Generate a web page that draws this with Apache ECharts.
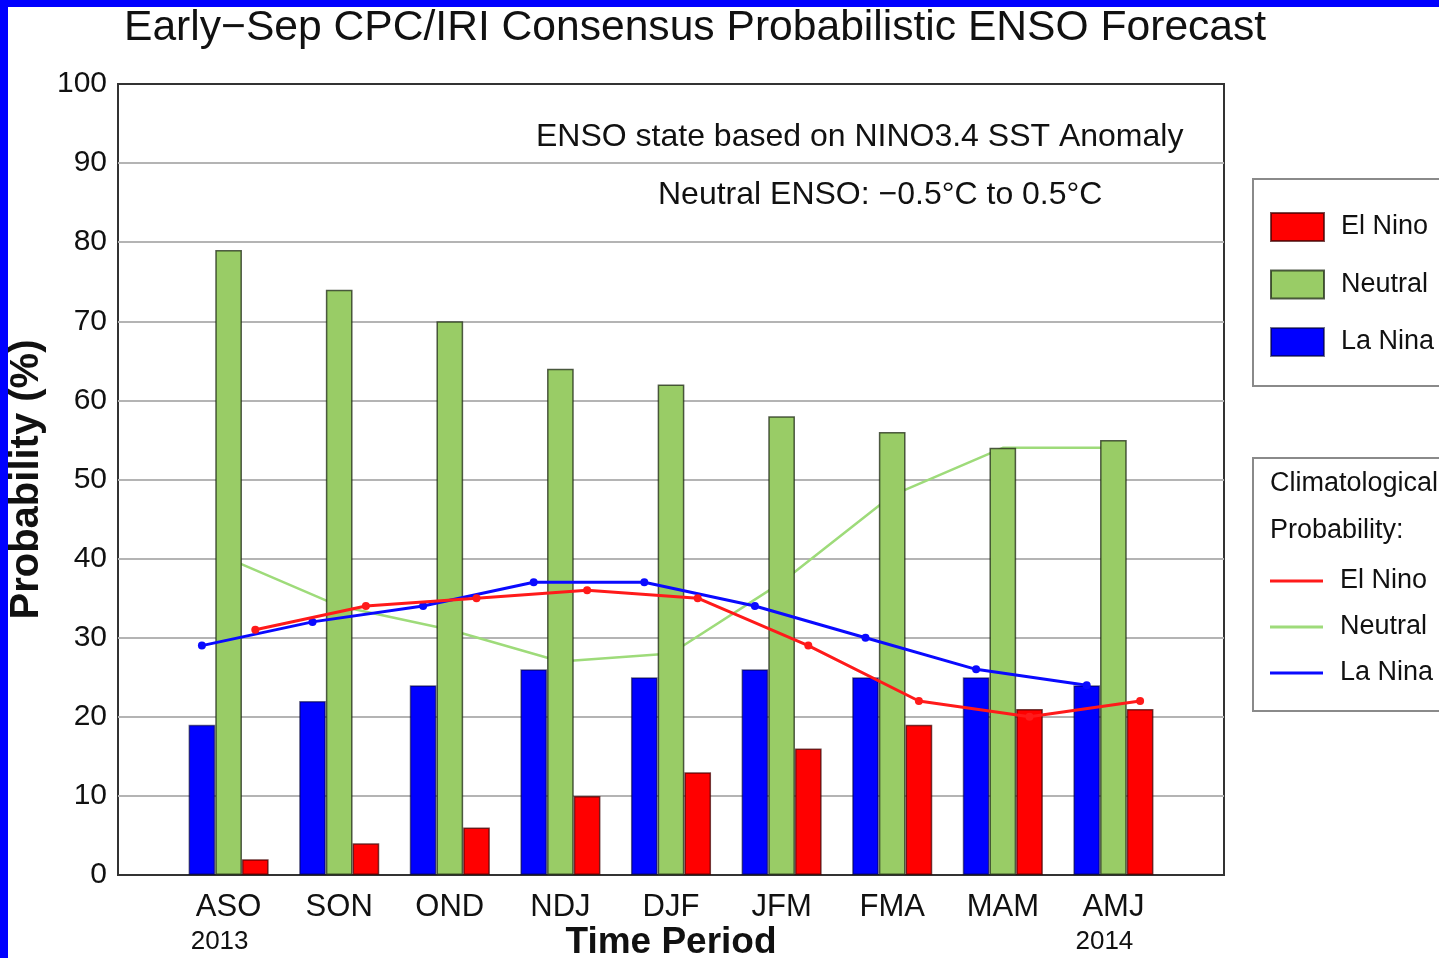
<!DOCTYPE html>
<html>
<head>
<meta charset="utf-8">
<script src="https://cdn.jsdelivr.net/npm/echarts@6/dist/echarts.min.js"></script>
<style>
html,body{margin:0;padding:0;background:#fff;}
#chart{width:1439px;height:958px;}
</style>
</head>
<body>
<div id="chart"></div>
<script>
// ---- data ----
const categories = ['ASO', 'SON', 'OND', 'NDJ', 'DJF', 'JFM', 'FMA', 'MAM', 'AMJ'];
const firstYear = '2013';
const lastYear = '2014';
const laNina  = [19, 22, 24, 26, 25, 26, 25, 25, 24];
const neutral = [79, 74, 70, 64, 62, 58, 56, 54, 55];
const elNino  = [2, 4, 6, 10, 13, 16, 19, 21, 21];
const climLaNina  = [29, 32, 34, 37, 37, 34, 30, 26, 24];
const climNeutral = [40, 34, 31, 27, 28, 37, 48, 54, 54];
const climElNino  = [31, 34, 35, 36, 35, 29, 22, 20, 22];
const yMin = 0, yMax = 100, yStep = 10;

// ---- style ----
const FONT = '"Liberation Sans", Arial, Helvetica, sans-serif';
const TXT = '#111';
const BOX = {left: 118, top: 84, width: 1106, height: 791};
const nCat = categories.length;
const slot = BOX.width / (nCat + 1);
const barW = 26.7;
const barsLeft = BOX.left + slot / 2;
const barsWidth = slot * nCat;

const chart = echarts.init(document.getElementById('chart'), null, {renderer: 'canvas'});

function hiddenX(grid) {
  return {type: 'category', gridIndex: grid, data: categories, show: false};
}
function hiddenY(grid) {
  return {type: 'value', gridIndex: grid, min: yMin, max: yMax, interval: yStep, show: false};
}
function plainGrid(left) {
  return {left: left, top: BOX.top, width: barsWidth, height: BOX.height,
          containLabel: false, outerBoundsMode: 'none'};
}

const option = {
  animation: false,
  backgroundColor: '#fff',
  title: {
    text: 'Early\u2212Sep CPC/IRI Consensus Probabilistic ENSO Forecast',
    left: 124, top: 7, padding: 0,
    textStyle: {fontFamily: FONT, fontSize: 42.6, fontWeight: 'normal', color: TXT, lineHeight: 43}
  },
  grid: [
    {left: BOX.left, top: BOX.top, width: BOX.width, height: BOX.height, show: true,
     borderColor: '#333', borderWidth: 2, backgroundColor: '#fff',
     containLabel: false, outerBoundsMode: 'none'},
    plainGrid(barsLeft),
    plainGrid(barsLeft - barW),
    plainGrid(barsLeft + barW)
  ],
  xAxis: [
    {type: 'value', gridIndex: 0, min: 0, max: 1, show: false},
    {type: 'category', gridIndex: 1, data: categories,
     axisLine: {show: false}, axisTick: {show: false},
     axisLabel: {
       interval: 0, margin: 17, fontFamily: FONT, fontSize: 31, lineHeight: 30, color: TXT,
       formatter: function (v, i) {
         if (i === 0) return v + '\n{yr|' + firstYear + '}';
         if (i === nCat - 1) return v + '\n{yr|' + lastYear + '}';
         return v;
       },
       rich: {yr: {fontFamily: FONT, fontSize: 26, lineHeight: 40, color: TXT, padding: [0, 18, 0, 0]}}
     },
     name: 'Time Period', nameLocation: 'middle', nameGap: 49, nameMoveOverlap: false,
     nameTextStyle: {fontFamily: FONT, fontSize: 37, fontWeight: 'bold', color: TXT, lineHeight: 37}
    },
    hiddenX(2),
    hiddenX(3)
  ],
  yAxis: [
    {type: 'value', gridIndex: 0, min: yMin, max: yMax, interval: yStep,
     axisLine: {show: false}, axisTick: {show: false},
     splitLine: {show: true, showMinLine: false, showMaxLine: false, lineStyle: {color: '#b4b4b4', width: 2}},
     axisLabel: {margin: 11, fontFamily: FONT, fontSize: 30, color: TXT},
     name: 'Probability (%)', nameLocation: 'middle', nameGap: 71, nameRotate: 90, nameMoveOverlap: false,
     nameTextStyle: {fontFamily: FONT, fontSize: 40, fontWeight: 'bold', color: TXT, lineHeight: 40}
    },
    hiddenY(1),
    hiddenY(2),
    hiddenY(3)
  ],
  legend: [
    {data: ['El Nino', 'Neutral', 'La Nina'], orient: 'vertical', left: 1270, top: 212,
     padding: 0, itemWidth: 53, itemHeight: 28, itemGap: 27.5, icon: 'rect', selectedMode: false,
     textStyle: {fontFamily: FONT, fontSize: 27, lineHeight: 28, color: TXT, padding: [0, 0, 0, 12]}},
    {data: ['Clim El Nino', 'Clim Neutral', 'Clim La Nina'], orient: 'vertical', left: 1270, top: 567,
     padding: 0, itemWidth: 53, itemHeight: 3, itemGap: 18, icon: 'rect', selectedMode: false,
     formatter: function (n) { return n.replace('Clim ', ''); },
     textStyle: {fontFamily: FONT, fontSize: 27, lineHeight: 28, color: TXT, padding: [0, 0, 0, 12]}}
  ],
  graphic: [
    {type: 'rect', shape: {x: 0, y: 0, width: 1439, height: 7}, style: {fill: '#0000ff'}, z: 100},
    {type: 'rect', shape: {x: 0, y: 0, width: 8, height: 958}, style: {fill: '#0000ff'}, z: 100},
    {type: 'rect', shape: {x: 1253, y: 179, width: 260, height: 207}, style: {fill: 'none', stroke: '#8a8a8a', lineWidth: 2}},
    {type: 'rect', shape: {x: 1253, y: 458, width: 260, height: 253}, style: {fill: 'none', stroke: '#8a8a8a', lineWidth: 2}},
    {type: 'text', x: 1270, y: 484, style: {text: 'Climatological', font: '27px ' + FONT, fill: TXT, textVerticalAlign: 'middle'}},
    {type: 'text', x: 1270, y: 531, style: {text: 'Probability:', font: '27px ' + FONT, fill: TXT, textVerticalAlign: 'middle'}},
    {type: 'text', x: 536, y: 137, z: 50, style: {text: 'ENSO state based on NINO3.4 SST Anomaly', font: '32px ' + FONT, fill: TXT, textVerticalAlign: 'middle'}},
    {type: 'text', x: 658, y: 195, z: 50, style: {text: 'Neutral ENSO: \u22120.5\u00B0C to 0.5\u00B0C', font: '32px ' + FONT, fill: TXT, textVerticalAlign: 'middle'}}
  ],
  series: [
    {name: 'La Nina', type: 'bar', xAxisIndex: 1, yAxisIndex: 1, data: laNina,
     barWidth: barW, barGap: '0%', z: 3,
     itemStyle: {color: '#0000ff', borderColor: 'rgba(0,0,40,0.55)', borderWidth: 1.5}},
    {name: 'Neutral', type: 'bar', xAxisIndex: 1, yAxisIndex: 1, data: neutral,
     barWidth: barW, barGap: '0%', z: 3,
     itemStyle: {color: '#99cc66', borderColor: 'rgba(30,40,20,0.75)', borderWidth: 1.5}},
    {name: 'El Nino', type: 'bar', xAxisIndex: 1, yAxisIndex: 1, data: elNino,
     barWidth: barW, barGap: '0%', z: 3,
     itemStyle: {color: '#ff0000', borderColor: 'rgba(60,0,0,0.7)', borderWidth: 1.5}},
    {name: 'Clim Neutral', type: 'line', xAxisIndex: 1, yAxisIndex: 1, data: climNeutral,
     symbol: 'none', z: 2, color: '#9edb7a',
     lineStyle: {color: '#9edb7a', width: 2.5}, itemStyle: {color: '#9edb7a'}},
    {name: 'Clim La Nina', type: 'line', xAxisIndex: 2, yAxisIndex: 2, data: climLaNina,
     symbol: 'circle', symbolSize: 8, z: 5, color: '#0a0aff',
     lineStyle: {color: '#0a0aff', width: 3}, itemStyle: {color: '#0a0aff'}},
    {name: 'Clim El Nino', type: 'line', xAxisIndex: 3, yAxisIndex: 3, data: climElNino,
     symbol: 'circle', symbolSize: 8, z: 6, color: '#ff1a1a',
     lineStyle: {color: '#ff1a1a', width: 3}, itemStyle: {color: '#ff1a1a'}}
  ]
};
chart.setOption(option);
</script>
</body>
</html>
